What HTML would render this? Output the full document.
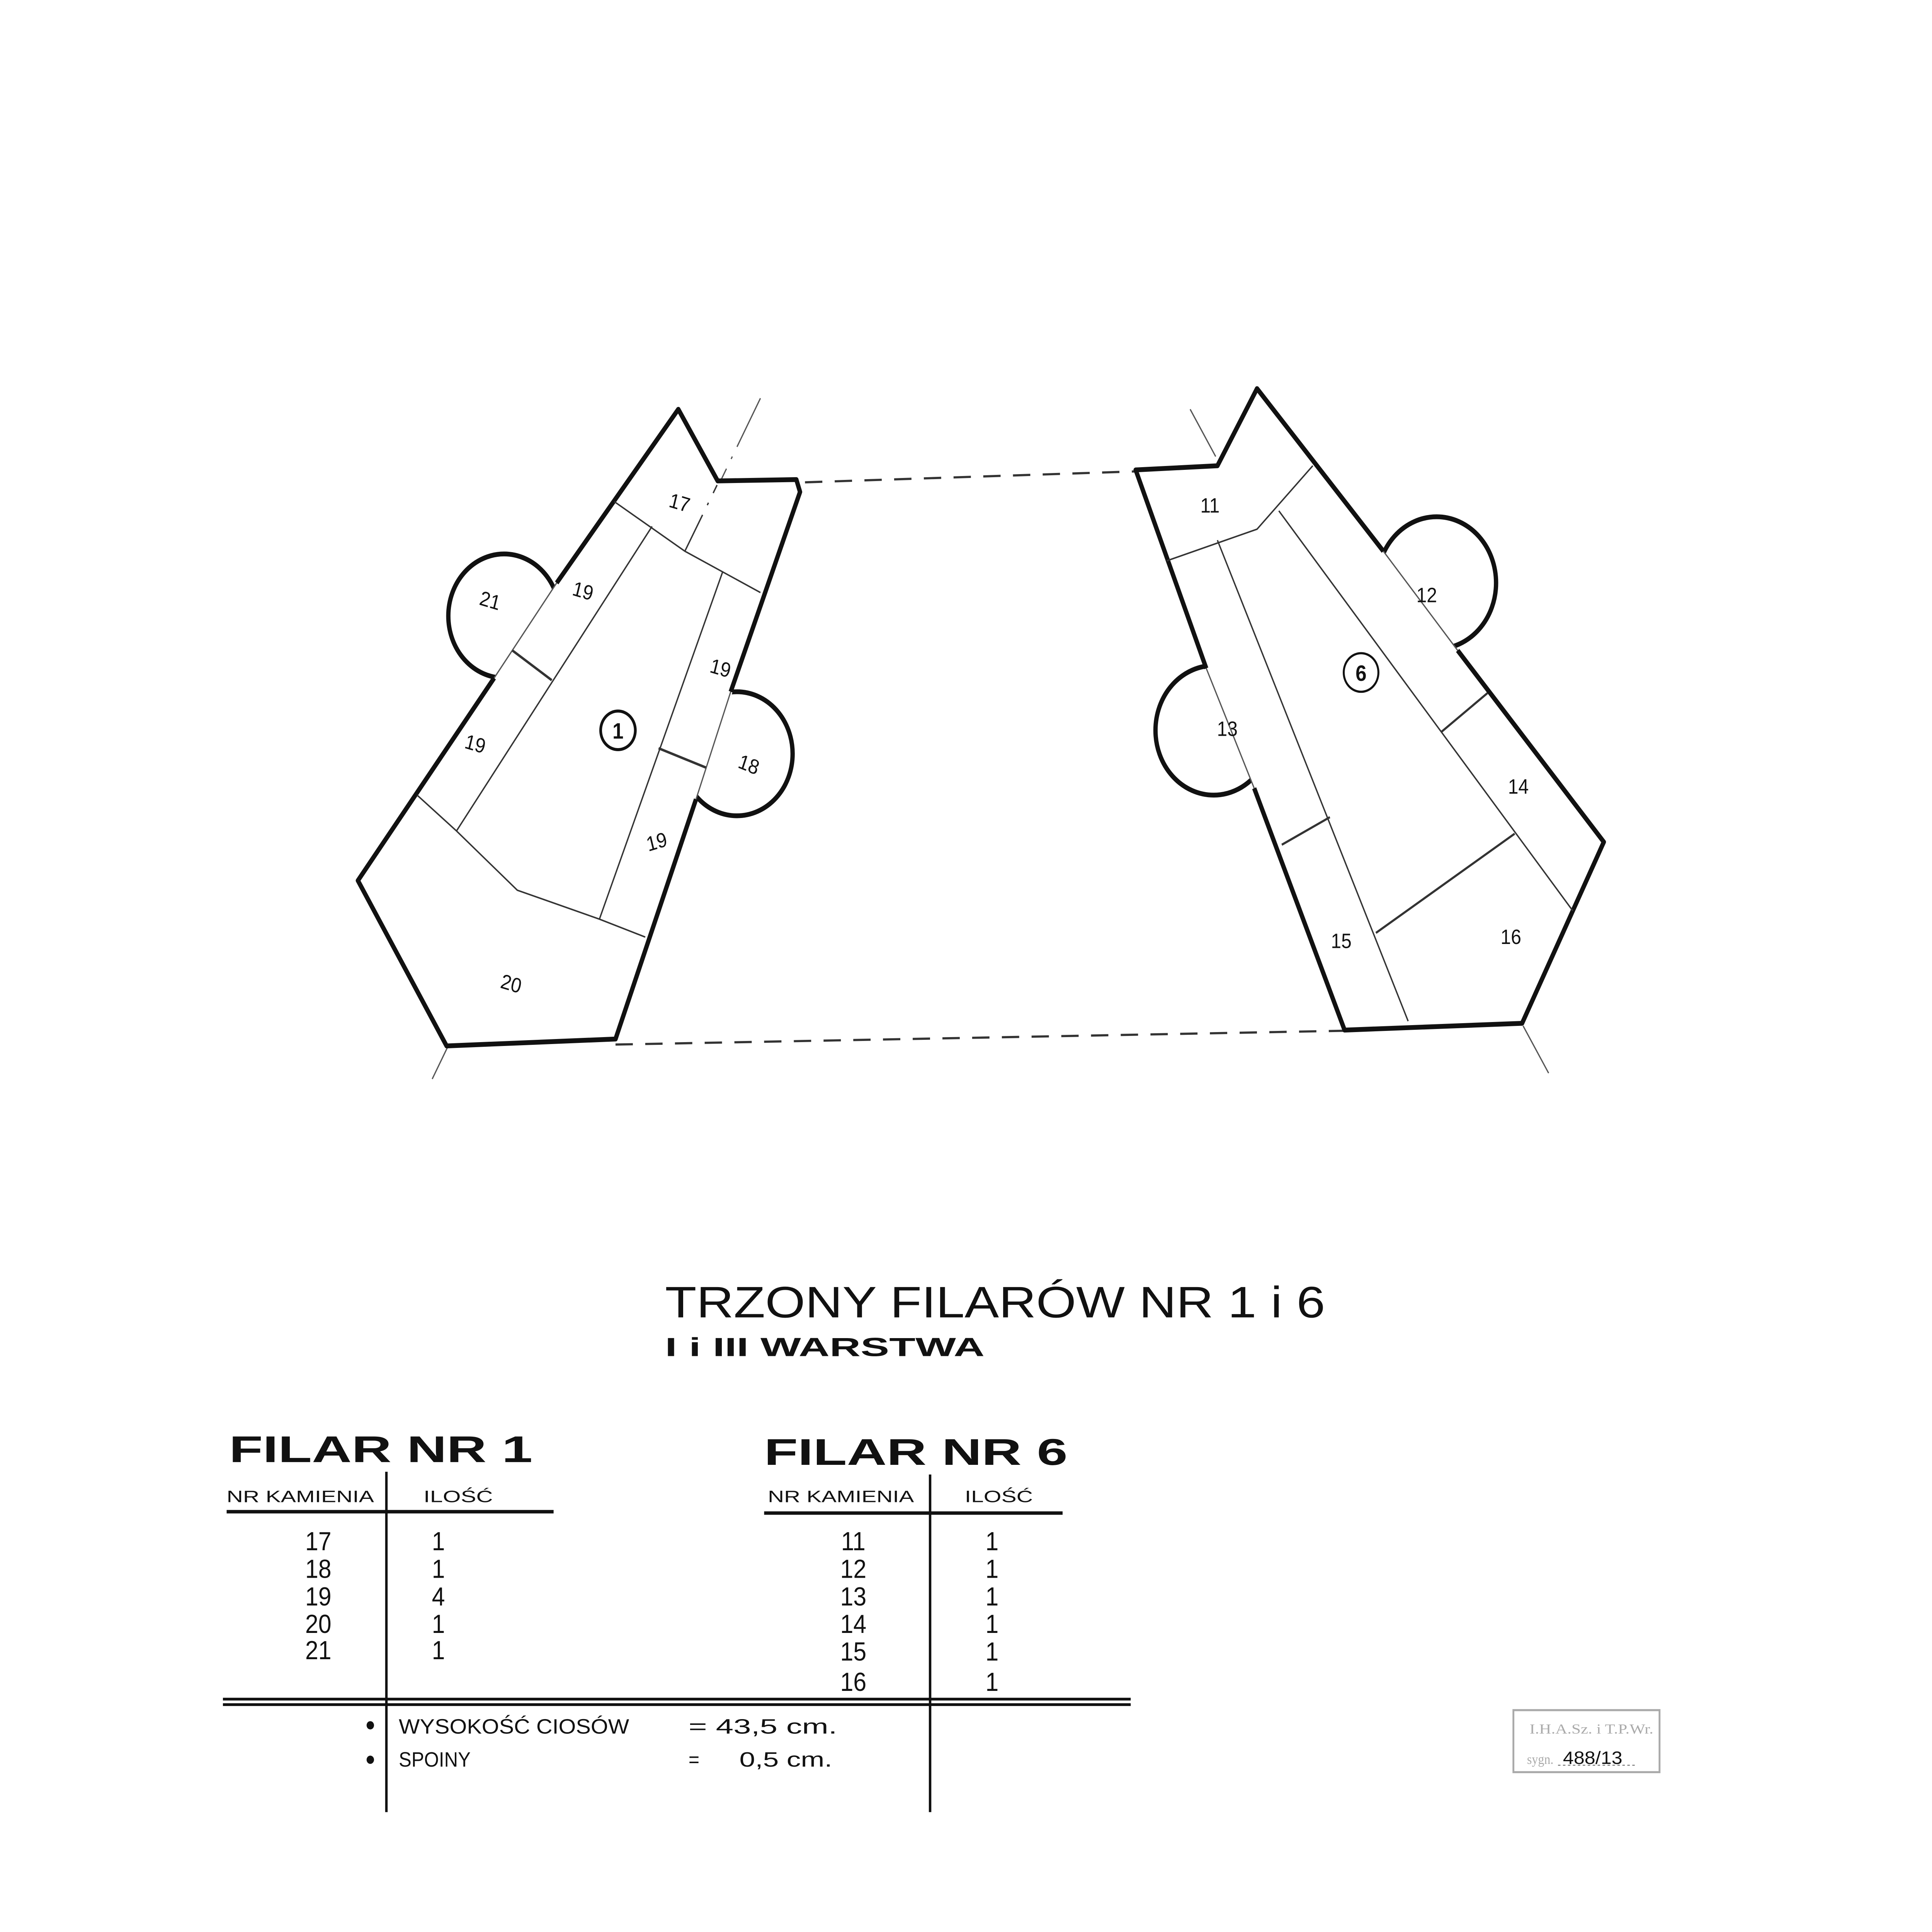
<!DOCTYPE html>
<html><head><meta charset="utf-8"><style>
html,body{margin:0;padding:0;background:#fff;width:100vw;height:100vh;overflow:hidden}
svg{display:block;position:fixed;left:0;top:0;width:100vw;height:100vh}
text{font-family:"Liberation Sans",sans-serif;fill:#111}
</style></head><body>
<svg viewBox="0 0 1560 1402" preserveAspectRatio="none" xmlns="http://www.w3.org/2000/svg">
<rect width="1560" height="1402" fill="#fff"/>
<g fill="none" stroke="#555" stroke-width="1">
<path d="M614,289 L349,783" stroke-dasharray="40,8,2,8"/>
<path d="M961,297 L1253,783" stroke-dasharray="40,8,2,8"/>
<path d="M650,350 L920,342" stroke-dasharray="14,10" stroke-width="1.6" stroke="#333"/>
<path d="M497,758 L1085,748" stroke-dasharray="14,10" stroke-width="1.6" stroke="#333"/>
</g>
<g stroke="#111" stroke-width="3.5" fill="#fff">
<circle cx="407" cy="447" r="45"/>
<circle cx="595" cy="547" r="45"/>
<circle cx="1160" cy="423" r="48"/>
<circle cx="980" cy="530" r="47"/>
</g>
<g fill="#fff" stroke="none">
<path d="M547.7,297 L579.5,349 L643,348 L646,357 L497,754 L360.6,759 L289,639 L399,492 L449.5,423 Z"/>
<path d="M917,341 L983,338 L1015,282 L1117,400 L1177,472 L1295,611 L1229,742.6 L1085.7,747.5 L1012.7,572 L974,485 Z"/>
</g>
<g fill="none" stroke="#111" stroke-width="3.5" stroke-linejoin="round">
<path d="M399,492 L289,639 L360.6,759 L497,754 L562,580"/>
<path d="M590,502 L646,357 L643,348 L579.5,349 L547.7,297 L449.5,423"/>
<path d="M974,485 L917,341 L983,338 L1015,282 L1117,400"/>
<path d="M1177,472 L1295,611 L1229,742.6 L1085.7,747.5 L1012.7,572"/>
</g>
<g fill="none" stroke="#555" stroke-width="1">
<path d="M449.5,423 L399,492"/>
<path d="M590,502 L562,580"/>
<path d="M1117,400 L1177,472"/>
<path d="M974,485 L1012.7,572"/>
</g>
<g fill="none" stroke="#333" stroke-width="1.1">
<path d="M496,364 L553,400 L614,430"/>
<path d="M526.5,382 L368.6,603"/>
<path d="M583.5,415 L484,667"/>
<path d="M413.7,472 L445.5,493.6" stroke-width="1.8"/>
<path d="M531.8,543 L570,557" stroke-width="1.8"/>
<path d="M336.8,577 L368.6,603 L417.7,646 L484,667 L521,680"/>
<path d="M942,407 L1015,384 L1060,338"/>
<path d="M983,392 L1137,741"/>
<path d="M1032.6,370.7 L1270,661"/>
<path d="M1035,613 L1073.8,593" stroke-width="1.6"/>
<path d="M1164,531 L1201,503" stroke-width="1.6"/>
<path d="M1111,677 L1223,605" stroke-width="1.6"/>
<path d="M553,400 L579,352" stroke-dasharray="30,8,2,8"/>
</g>
<g font-size="15" text-anchor="middle">
<text x="549" y="370" transform="rotate(15 549 364)">17</text>
<text x="471" y="434" transform="rotate(15 471 428)">19</text>
<text x="396" y="441" transform="rotate(15 396 435)">21</text>
<text x="582" y="490" transform="rotate(15 582 484)">19</text>
<text x="384" y="545" transform="rotate(15 384 539)">19</text>
<text x="605" y="560" transform="rotate(20 605 554)">18</text>
<text x="530" y="616" transform="rotate(-15 530 610)">19</text>
<text x="413" y="719" transform="rotate(15 413 713)">20</text>
<text x="977" y="372">11</text>
<text x="1152" y="437">12</text>
<text x="991" y="534">13</text>
<text x="1226" y="576">14</text>
<text x="1083" y="688">15</text>
<text x="1220" y="685">16</text>
</g>
<g stroke="#111" fill="none">
<circle cx="499" cy="530" r="14" stroke-width="2.2"/>
<circle cx="1099" cy="488" r="14" stroke-width="1.6"/>
</g>
<text x="499" y="536" font-size="16" font-weight="bold" text-anchor="middle">1</text>
<text x="1099" y="494" font-size="16" font-weight="bold" text-anchor="middle">6</text>

<text x="537" y="956" font-size="32" textLength="533" lengthAdjust="spacingAndGlyphs">TRZONY FILARÓW NR 1 i 6</text>
<text x="537" y="984" font-size="19" font-weight="bold" textLength="258" lengthAdjust="spacingAndGlyphs">I i III WARSTWA</text>

<text x="185" y="1061" font-size="27" font-weight="bold" textLength="245" lengthAdjust="spacingAndGlyphs">FILAR NR 1</text>
<text x="617" y="1063" font-size="27" font-weight="bold" textLength="245" lengthAdjust="spacingAndGlyphs">FILAR NR 6</text>

<g stroke="#111" fill="none">
<path d="M312,1068 L312,1315" stroke-width="2"/>
<path d="M751,1070 L751,1315" stroke-width="2"/>
<path d="M183,1097 L447,1097" stroke-width="2.5"/>
<path d="M617,1098 L858,1098" stroke-width="2.5"/>
<path d="M180,1233 L913,1233" stroke-width="2"/>
<path d="M180,1237 L913,1237" stroke-width="2"/>
</g>
<g font-size="12">
<text x="183" y="1090" textLength="119" lengthAdjust="spacingAndGlyphs">NR KAMIENIA</text>
<text x="342" y="1090" textLength="56" lengthAdjust="spacingAndGlyphs">ILOŚĆ</text>
<text x="620" y="1090" textLength="118" lengthAdjust="spacingAndGlyphs">NR KAMIENIA</text>
<text x="779" y="1090" textLength="55" lengthAdjust="spacingAndGlyphs">ILOŚĆ</text>
</g>
<g font-size="19" text-anchor="middle">
<text x="257" y="1125">17</text><text x="257" y="1145">18</text><text x="257" y="1165">19</text><text x="257" y="1185">20</text><text x="257" y="1204">21</text>
<text x="354" y="1125">1</text><text x="354" y="1145">1</text><text x="354" y="1165">4</text><text x="354" y="1185">1</text><text x="354" y="1204">1</text>
<text x="689" y="1125">11</text><text x="689" y="1145">12</text><text x="689" y="1165">13</text><text x="689" y="1185">14</text><text x="689" y="1205">15</text><text x="689" y="1227">16</text>
<text x="801" y="1125">1</text><text x="801" y="1145">1</text><text x="801" y="1165">1</text><text x="801" y="1185">1</text><text x="801" y="1205">1</text><text x="801" y="1227">1</text>
</g>
<circle cx="299" cy="1252" r="3" fill="#111"/>
<circle cx="299" cy="1277" r="3" fill="#111"/>
<g font-size="15">
<text x="322" y="1258" textLength="186" lengthAdjust="spacingAndGlyphs">WYSOKOŚĆ CIOSÓW</text>
<text x="556" y="1258" textLength="120" lengthAdjust="spacingAndGlyphs">= 43,5 cm.</text>
<text x="322" y="1282" textLength="58" lengthAdjust="spacingAndGlyphs">SPOINY</text>
<text x="556" y="1282">=</text>
<text x="597" y="1282" textLength="75" lengthAdjust="spacingAndGlyphs">0,5 cm.</text>
</g>
<rect x="1222" y="1241" width="118" height="45" fill="none" stroke="#aaa" stroke-width="1.5"/>
<text x="1235" y="1258" font-size="10" style="fill:#aaa;font-family:'Liberation Serif',serif" textLength="100" lengthAdjust="spacingAndGlyphs">I.H.A.Sz. i T.P.Wr.</text>
<text x="1233" y="1280" font-size="10" style="fill:#aaa;font-family:'Liberation Serif',serif">sygn.</text>
<text x="1262" y="1280" font-size="13" textLength="48" lengthAdjust="spacingAndGlyphs">488/13</text>
<path d="M1258,1281 L1320,1281" stroke="#888" stroke-dasharray="2,2" stroke-width="0.8"/>
</svg>
</body></html>
